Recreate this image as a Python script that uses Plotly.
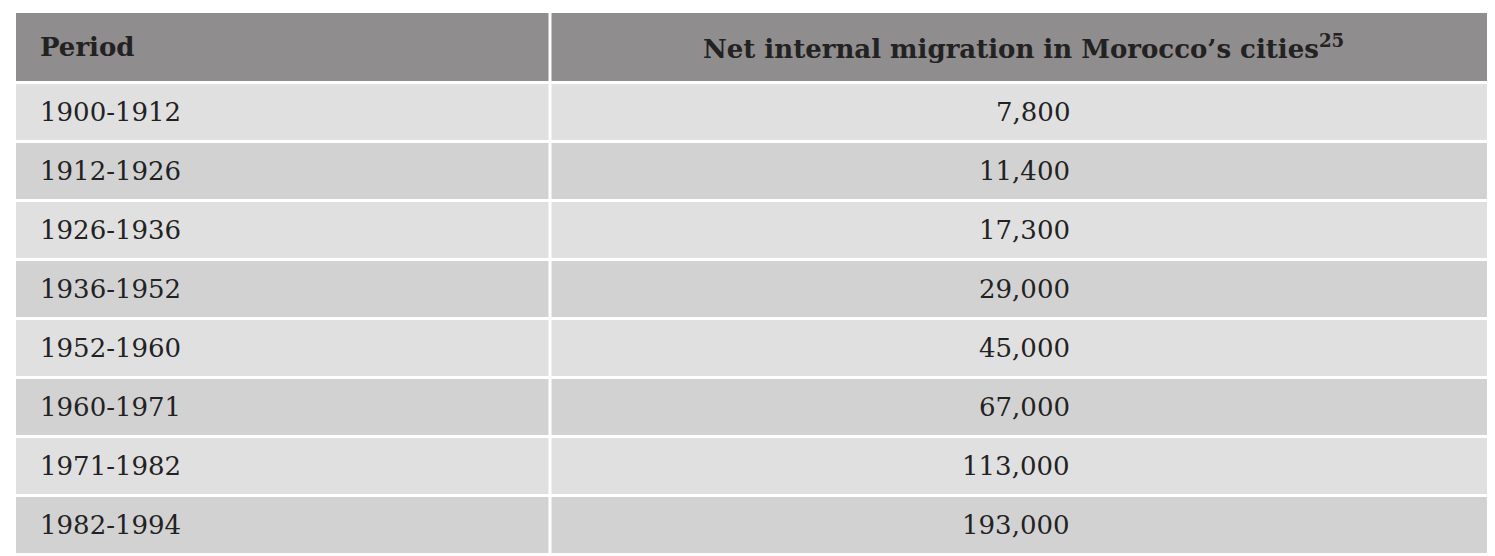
import plotly.graph_objects as go

periods = ["1900-1912", "1912-1926", "1926-1936", "1936-1952",
           "1952-1960", "1960-1971", "1971-1982", "1982-1994"]
migration = [7800, 11400, 17300, 29000, 45000, 67000, 113000, 193000]
headers = ["<b>Period</b>", "<b>Net internal migration in Morocco’s cities<sup>25</sup></b>"]

W, H = 1495, 556
x0, xs, x1 = 8, 542, 1487
head_top, head_h, row_h = 5, 68, 59
gap = 3
font = dict(family="DejaVu Serif", size=26, color="#222222")

fig = go.Figure()
fig.add_trace(go.Scatter(x=[0, W], y=[0, H], mode="markers", marker=dict(opacity=0),
                         hoverinfo="skip", showlegend=False))

def cellrow(top, bottom, color):
    fig.add_shape(type="rect", x0=x0, x1=xs - gap / 2, y0=top, y1=bottom,
                  fillcolor=color, line_width=0, layer="below")
    fig.add_shape(type="rect", x0=xs + gap / 2, x1=x1, y0=top, y1=bottom,
                  fillcolor=color, line_width=0, layer="below")

# header
cellrow(head_top, head_top + head_h, "#8f8d8e")
hy = head_top + head_h / 2
fig.add_annotation(x=30, y=hy, text=headers[0], xanchor="left", showarrow=False, font=font)
fig.add_annotation(x=1015, y=hy, text=headers[1], xanchor="center", showarrow=False, font=font)

for i, (p, v) in enumerate(zip(periods, migration)):
    top = head_top + head_h + gap + i * row_h
    cellrow(top, top + row_h - gap, "#e0e0e0" if i % 2 == 0 else "#d2d2d2")
    cy = top + (row_h - gap) / 2
    fig.add_annotation(x=30, y=cy, text=p, xanchor="left", showarrow=False, font=font)
    fig.add_annotation(x=1064, y=cy, text=f"{v:,}", xanchor="right", showarrow=False, font=font)

fig.update_layout(width=W, height=H, margin=dict(l=0, r=0, t=0, b=0),
                  paper_bgcolor="white", plot_bgcolor="white",
                  xaxis=dict(range=[0, W], visible=False, fixedrange=True),
                  yaxis=dict(range=[H, 0], visible=False, fixedrange=True))
fig.write_html("out.html")
